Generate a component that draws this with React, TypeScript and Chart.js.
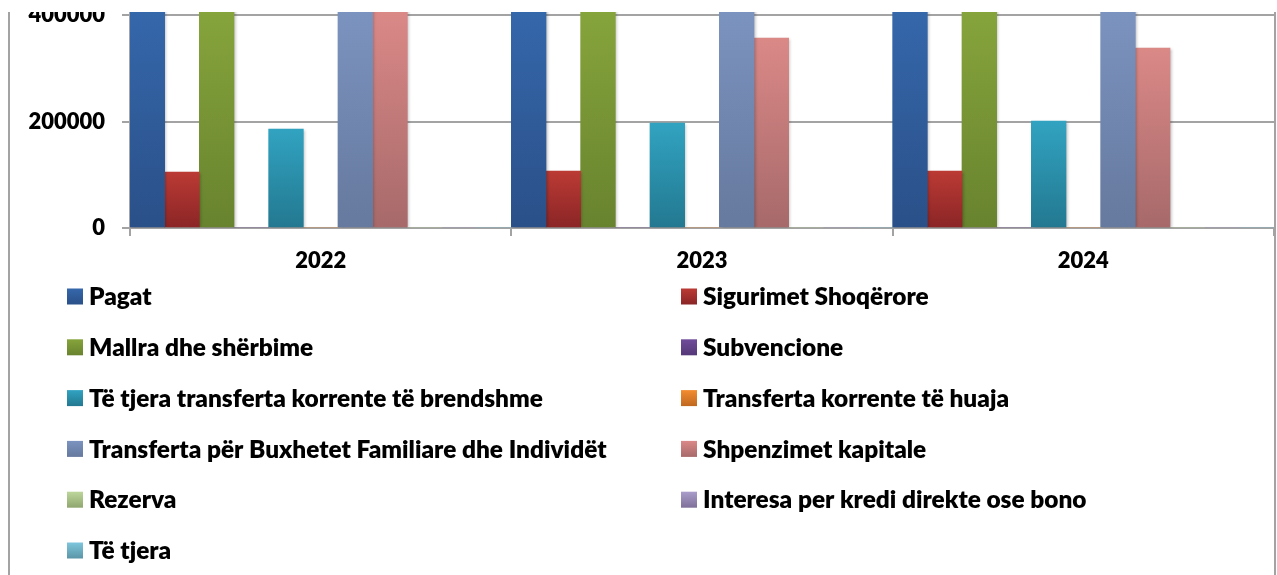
import React, { useEffect, useRef } from 'react';
import { Chart, registerables } from 'chart.js';

Chart.register(...registerables);

// ---- data ----
const categories = ['2022', '2023', '2024'];
const seriesNames = [
  'Pagat',
  'Sigurimet Shoqërore',
  'Mallra dhe shërbime',
  'Subvencione',
  'Të tjera transferta korrente të brendshme',
  'Transferta korrente të huaja',
  'Transferta për Buxhetet Familiare dhe Individët',
  'Shpenzimet kapitale',
  'Rezerva',
  'Interesa per kredi direkte ose bono',
  'Të tjera',
];
const pagat = [520000, 540000, 560000];
const sigurimetShoqerore = [105000, 107000, 107000];
const mallraDheSherbime = [460000, 470000, 480000];
const subvencione = [0, 0, 0];
const teTjeraTransfertaBrendshme = [186000, 197000, 201000];
const transfertaHuaja = [0, 0, 0];
const transfertaBuxhetet = [430000, 440000, 450000];
const shpenzimetKapitale = [430000, 357000, 338000];
const rezerva = [0, 0, 0];
const interesa = [0, 0, 0];
const teTjera = [0, 0, 0];
const seriesValues = [
  pagat,
  sigurimetShoqerore,
  mallraDheSherbime,
  subvencione,
  teTjeraTransfertaBrendshme,
  transfertaHuaja,
  transfertaBuxhetet,
  shpenzimetKapitale,
  rezerva,
  interesa,
  teTjera,
];
const yTickValues = [0, 200000, 400000];
const yMax = 500000;

// ---- styles ----
const topColors = [
  '#3567ab', '#bb3a34', '#86a43c', '#704c9a', '#31a3c1', '#f28c2f',
  '#7b93bf', '#da8987', '#bdd69a', '#aa9dcb', '#7ec6dc',
];
const bottomColors = [
  '#2a5088', '#8a2526', '#68832e', '#543877', '#237890', '#c0681f',
  '#66799e', '#a7696a', '#8fa76f', '#7e7099', '#5b95a7',
];
const FONT = 'Lato';
const FONT_WEIGHT = 800;
const CANVAS_W = 1277;
const CANVAS_H = 635;
const CANVAS_PAGE_TOP = -60; // canvas top in page coordinates
const VISIBLE_TOP = 12 - CANVAS_PAGE_TOP; // canvas y where the visible frame starts
const GRID = '#a3a3a3';

function barGradient(c: any, i: number) {
  const chart = c.chart;
  const area = chart.chartArea;
  if (!area || c.type !== 'data') return topColors[i];
  const ys = chart.scales.y;
  const v = c.parsed ? c.parsed.y : c.raw;
  const bottom = ys.getPixelForValue(0);
  const top = Math.max(ys.getPixelForValue(v), VISIBLE_TOP);
  if (!(bottom - top > 0.5)) return topColors[i];
  const g = chart.ctx.createLinearGradient(0, top, 0, bottom);
  g.addColorStop(0, topColors[i]);
  g.addColorStop(1, bottomColors[i]);
  return g;
}

const shadowPlugin = {
  id: 'barShadow',
  beforeDatasetsDraw(chart: any) {
    const c = chart.ctx;
    c.save();
    c.shadowColor = 'rgba(0,0,0,0.28)';
    c.shadowBlur = 3;
    c.shadowOffsetX = 1.5;
    c.shadowOffsetY = 1;
  },
  afterDatasetsDraw(chart: any) {
    chart.ctx.restore();
  },
};

const LEGEND_FIRST_ROW = 296.5 - CANVAS_PAGE_TOP;
const LEGEND_ROW_H = 50.8;
const LEGEND_COL_X = [67, 681];
const LEGEND_BOX = 16;

const gridLegendPlugin = {
  id: 'gridLegend',
  afterDraw(chart: any) {
    const c = chart.ctx;
    c.save();
    c.font = `${FONT_WEIGHT} 24.4px ${FONT}`;
    c.textAlign = 'left';
    c.textBaseline = 'alphabetic';
    chart.data.datasets.forEach((ds: any, i: number) => {
      const col = i % 2;
      const row = Math.floor(i / 2);
      const cy = LEGEND_FIRST_ROW + row * LEGEND_ROW_H;
      const x = LEGEND_COL_X[col];
      const g = c.createLinearGradient(0, cy - LEGEND_BOX / 2, 0, cy + LEGEND_BOX / 2);
      g.addColorStop(0, topColors[i]);
      g.addColorStop(1, bottomColors[i]);
      c.fillStyle = g;
      c.fillRect(x, cy - LEGEND_BOX / 2, LEGEND_BOX, LEGEND_BOX);
      c.fillStyle = '#000';
      c.fillText(ds.label, x + LEGEND_BOX + 6, cy + 8.7);
    });
    c.restore();
  },
};

export default function App() {
  const ref = useRef<HTMLCanvasElement | null>(null);

  useEffect(() => {
    if (!ref.current) return;
    const tickFont = { family: FONT, size: 22, weight: FONT_WEIGHT as any };
    const chart = new Chart(ref.current, {
      type: 'bar',
      data: {
        labels: categories,
        datasets: seriesNames.map((name, i) => ({
          label: name,
          data: seriesValues[i],
          backgroundColor: (c: any) => barGradient(c, i),
          borderWidth: 0,
          categoryPercentage: 1,
          barPercentage: 1,
        })),
      },
      options: {
        responsive: false,
        animation: false,
        devicePixelRatio: 1,
        layout: { padding: { top: 22, right: 3, left: 0, bottom: 0 } },
        plugins: {
          legend: { display: false },
          tooltip: { enabled: false },
        },
        scales: {
          x: {
            grid: {
              offset: true,
              drawOnChartArea: false,
              drawTicks: true,
              tickLength: 8,
              color: GRID,
              lineWidth: 2,
            },
            border: { display: true, color: GRID, width: 2 },
            ticks: { font: tickFont, color: '#000', padding: 12 },
            afterFit: (s: any) => {
              s.height = 347;
              s.paddingLeft = 0;
              s.paddingRight = 0;
            },
          },
          y: {
            min: 0,
            max: yMax,
            afterBuildTicks: (s: any) => {
              s.ticks = yTickValues.map((v) => ({ value: v }));
            },
            grid: {
              color: GRID,
              lineWidth: 2,
              tickLength: 8,
              drawTicks: true,
            },
            border: { display: true, color: GRID, width: 2 },
            ticks: {
              font: tickFont,
              color: '#000',
              padding: 17,
              callback: (v: any) => String(v),
            },
            afterFit: (s: any) => {
              s.width = 130;
              s.paddingTop = 0;
              s.paddingBottom = 0;
            },
          },
        },
      },
      plugins: [shadowPlugin, gridLegendPlugin],
    });
    return () => chart.destroy();
  }, []);

  return (
    <div
      style={{
        position: 'absolute',
        left: 0,
        top: 12,
        width: CANVAS_W,
        height: 575 - 12,
        overflow: 'hidden',
        background: '#fff',
      }}
    >
      <canvas
        ref={ref}
        width={CANVAS_W}
        height={CANVAS_H}
        style={{
          position: 'absolute',
          left: 0,
          top: CANVAS_PAGE_TOP - 12,
          width: CANVAS_W,
          height: CANVAS_H,
        }}
      />
      <div style={{ position: 'absolute', left: 8, top: 0, width: 2, height: 575 - 12, background: GRID }} />
      <div style={{ position: 'absolute', left: 1274, top: 0, width: 2, height: 575 - 12, background: GRID }} />
    </div>
  );
}
